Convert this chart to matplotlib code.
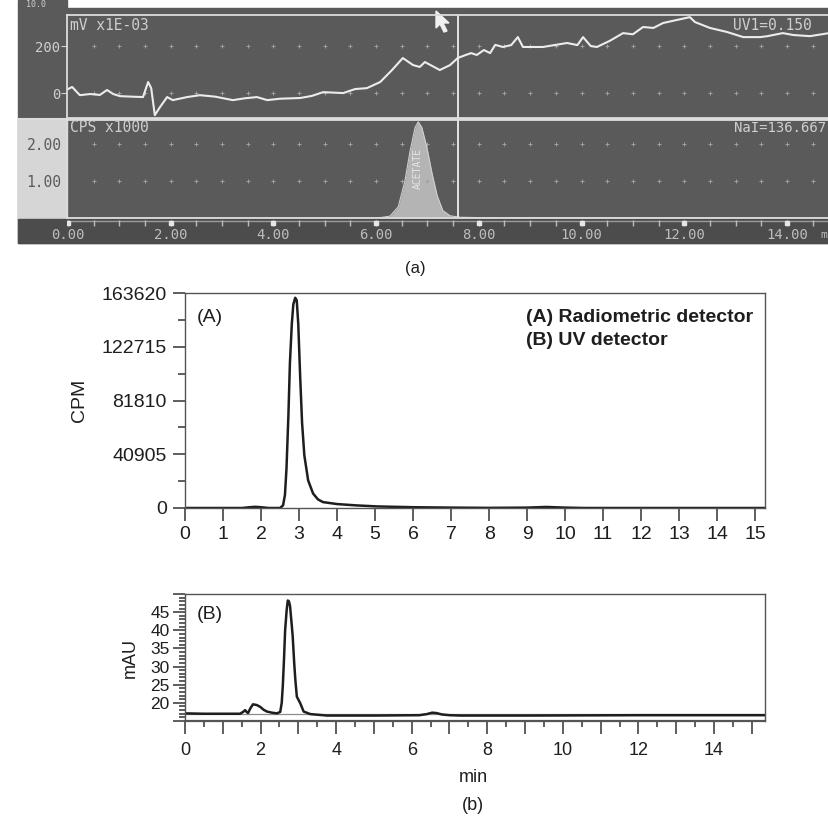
import matplotlib
matplotlib.use("Agg")
import matplotlib.pyplot as plt
from matplotlib.patches import Rectangle, Polygon
from matplotlib.ticker import MultipleLocator, FuncFormatter, FixedLocator

plt.rcParams['font.family'] = ['Liberation Sans', 'DejaVu Sans']

W, H = 829, 817


def px_rect(x0, y0, x1, y1):
    # axes rectangle from pixel box (origin top left)
    return [x0 / W, 1 - y1 / H, (x1 - x0) / W, (y1 - y0) / H]


# ---- panel (a): screen capture of the detector software
uv_t = [0.0, 0.08, 0.23, 0.43, 0.62, 0.76, 0.88, 1.01, 1.21, 1.46, 1.56, 1.62, 1.69,
        1.79, 1.93, 2.04, 2.32, 2.57, 2.86, 3.21, 3.45, 3.68, 3.88, 4.13, 4.52, 4.75,
        4.97, 5.36, 5.59, 5.82, 6.08, 6.31, 6.52, 6.72, 6.85, 6.95, 7.24, 7.44, 7.59,
        7.72, 7.85, 7.96, 8.10, 8.22, 8.32, 8.47, 8.63, 8.76, 8.86, 9.25, 9.72, 9.92,
        10.03, 10.18, 10.30, 10.55, 10.81, 11.00, 11.20, 11.40, 11.59, 11.86, 12.11,
        12.21, 12.50, 12.83, 13.15, 13.48, 13.62, 13.92, 14.12, 14.45, 14.82]
uv_v = [17, 26, -9, -4, -8, 13, -4, -13, -15, -17, 47, 21, -94, -60, -17, -30, -17,
        -9, -15, -30, -22, -17, -30, -24, -21, -12, 4, 0, 17, 21, 47, 98, 149, 119,
        111, 132, 98, 119, 149, 160, 170, 162, 183, 170, 205, 196, 204, 238, 196, 196,
        213, 204, 238, 200, 196, 222, 255, 250, 281, 277, 298, 311, 323, 302, 277,
        260, 238, 238, 242, 255, 247, 242, 255]
cps_t = [0.0, 6.0, 6.13, 6.27, 6.43, 6.56, 6.66, 6.76, 6.82, 6.89, 6.99, 7.09, 7.19,
         7.30, 7.44, 7.63, 8.02, 14.82]
cps_v = [0.0, 0.0, 0.02, 0.05, 0.3, 1.0, 1.8, 2.45, 2.6, 2.45, 1.9, 1.2, 0.6, 0.2,
         0.06, 0.02, 0.01, 0.0]
screen_labels = [0, 2, 4, 6, 8, 10, 12, 14]
screen_minor = [i * 0.5 for i in range(30)]
cursor_t = 7.6

# ---- panel (b): radiometric (A) and UV (B) chromatograms
rad_t = [0.0, 1.5, 1.7, 1.85, 2.0, 2.2, 2.5, 2.58, 2.63, 2.67, 2.72, 2.76, 2.81, 2.85,
         2.9, 2.94, 2.98, 3.03, 3.08, 3.14, 3.24, 3.37, 3.5, 3.63, 4.0, 4.5, 5.05, 6.0,
         7.0, 8.0, 9.0, 9.5, 10.0, 10.5, 15.26]
rad_cpm = [0, 0, 600, 900, 600, 0, 0, 2000, 10000, 30000, 70000, 110000, 140000,
           155000, 160000, 158000, 140000, 100000, 65000, 40000, 21000, 11000, 6500,
           4500, 3000, 2000, 1200, 600, 300, 100, 300, 800, 300, 0, 0]
cpm_ticks = [0, 40905, 81810, 122715, 163620]

uvb_t = [0.0, 0.5, 1.0, 1.46, 1.55, 1.59, 1.64, 1.67, 1.73, 1.8, 1.9, 1.99, 2.08, 2.17,
         2.3, 2.43, 2.52, 2.56, 2.59, 2.62, 2.65, 2.69, 2.72, 2.75, 2.78, 2.82, 2.85,
         2.89, 2.92, 2.96, 3.05, 3.14, 3.32, 3.76, 5.0, 6.2, 6.4, 6.54, 6.65, 6.8, 7.0,
         7.3, 9.0, 12.0, 15.35]
uvb_mau = [17.1, 17.0, 17.0, 17.0, 17.6, 18.0, 17.4, 17.2, 18.5, 19.6, 19.4, 18.9, 18.1,
           17.6, 17.3, 17.1, 17.5, 20.0, 25.0, 32.0, 40.0, 45.5, 48.2, 48.0, 46.7, 42.0,
           38.4, 31.0, 26.4, 21.7, 19.9, 17.6, 16.9, 16.5, 16.5, 16.6, 16.9, 17.3, 17.2,
           16.8, 16.6, 16.5, 16.5, 16.6, 16.6]
uv_baseline = 16.9

SCR_BG = '#5a5a5a'
SCR_LINE = '#dcdcdc'
SCR_TXT = '#cfcfcf'
MONO = 'DejaVu Sans Mono'
INK = '#1e1e1e'

fig = plt.figure(figsize=(W / 100, H / 100), dpi=100)

# screen background
scr = fig.add_axes(px_rect(0, 0, W, 245))
scr.set_xlim(0, W)
scr.set_ylim(245, 0)
scr.axis('off')
scr.add_patch(Rectangle((18, 0), 49, 243, color=SCR_BG))
scr.add_patch(Rectangle((67, 8), W - 67, 235, color=SCR_BG))
scr.add_patch(Rectangle((18, 119), 49, 100, color='#d6d6d6'))
scr.add_patch(Rectangle((18, 219), W - 18, 24, color='#4c4c4c'))
scr.plot([18, W], [119, 119], color=SCR_LINE, lw=1.5)
scr.text(26, 4.5, '10.0', family=MONO, fontsize=6, color=SCR_TXT, va='center')
scr.add_patch(Polygon([(436, 11), (436, 28), (440, 24), (444, 32), (447, 31),
                       (443, 23), (449, 23)], closed=True, color='#f0f0f0'))

xl = (-0.02, 14.82)

# upper trace (UV)
ax_uv = fig.add_axes(px_rect(67, 15, W, 118))
ax_uv.set_facecolor('none')
ax_uv.set_xlim(*xl)
ax_uv.set_ylim(-106, 332)
for lv in (0, 200):
    ax_uv.plot(screen_minor[1:], [lv] * 29, ls='none', marker='+', ms=2.5, mew=0.7,
               color='#a0a0a0')
ax_uv.plot(uv_t, uv_v, color='#ececec', lw=1.5)
ax_uv.axvline(cursor_t, color='#eeeeee', lw=1.3)
for s in ('top', 'left', 'bottom'):
    ax_uv.spines[s].set_color(SCR_LINE)
    ax_uv.spines[s].set_linewidth(1.3)
ax_uv.spines['right'].set_visible(False)
ax_uv.set_xticks([])
ax_uv.set_yticks([0, 200])
ax_uv.set_yticklabels(['0', '200'], family=MONO, fontsize=10)
ax_uv.tick_params(axis='y', colors=SCR_TXT, length=4, pad=1)
ax_uv.text(0.004, 0.9, 'mV x1E-03', transform=ax_uv.transAxes, family=MONO,
           fontsize=10.5, color=SCR_TXT, va='center')
ax_uv.text(0.978, 0.9, 'UV1=0.150', transform=ax_uv.transAxes, family=MONO,
           fontsize=10.5, color=SCR_TXT, va='center', ha='right')

# lower trace (radioactivity)
ax_cps = fig.add_axes(px_rect(67, 120, W, 218))
ax_cps.set_facecolor('none')
ax_cps.set_xlim(*xl)
ax_cps.set_ylim(0, 2.65)
for lv in (1, 2):
    ax_cps.plot(screen_minor[1:], [lv] * 29, ls='none', marker='+', ms=2.5, mew=0.7,
                color='#a0a0a0')
ax_cps.fill_between(cps_t, cps_v, color='#b4b4b4', lw=0)
ax_cps.plot(cps_t, cps_v, color='#d0d0d0', lw=0.8)
ax_cps.axvline(cursor_t, color='#eeeeee', lw=1.3)
ax_cps.text(6.82, 1.35, 'ACETATE', rotation=90, family=MONO, fontsize=7,
            color='#e6e6e6', ha='center', va='center')
for s in ('top', 'left', 'bottom'):
    ax_cps.spines[s].set_color(SCR_LINE)
    ax_cps.spines[s].set_linewidth(1.3)
ax_cps.spines['right'].set_visible(False)
ax_cps.set_xticks([])
ax_cps.set_yticks([1, 2])
ax_cps.set_yticklabels(['1.00', '2.00'], family=MONO, fontsize=10.5)
ax_cps.tick_params(axis='y', colors='#5a5a5a', length=0, pad=4)
ax_cps.text(0.004, 0.92, 'CPS x1000', transform=ax_cps.transAxes, family=MONO,
            fontsize=10.5, color=SCR_TXT, va='center')
ax_cps.text(0.996, 0.92, 'NaI=136.667', transform=ax_cps.transAxes, family=MONO,
            fontsize=10, color=SCR_TXT, va='center', ha='right')

# time strip
ax_time = fig.add_axes(px_rect(67, 219, W, 243))
ax_time.set_xlim(*xl)
ax_time.set_ylim(0, 1)
ax_time.axis('off')
ax_time.axhline(0.9, color='#9a9a9a', lw=1)
ax_time.plot(screen_minor, [0.82] * len(screen_minor), ls='none', marker='|', ms=4,
             color='#bdbdbd')
ax_time.plot(screen_labels, [0.82] * len(screen_labels), ls='none', marker='s',
             ms=3, color='#e6e6e6')
for t in screen_labels:
    ax_time.text(t, 0.32, f'{t:.2f}', family=MONO, fontsize=10, color='#bdbdbd',
                 ha='center', va='center')
ax_time.text(0.997, 0.32, 'm', transform=ax_time.transAxes, family=MONO,
             fontsize=8, color='#bdbdbd', va='center', ha='right')

fig.text(415 / W, 1 - 268 / H, '(a)', fontsize=12, color=INK, ha='center',
         va='center')

# ---- (A) radiometric
ax_a = fig.add_axes(px_rect(185, 293, 765, 508))
ax_a.plot(rad_t, rad_cpm, color=INK, lw=1.8)
ax_a.set_xlim(0, 15.26)
ax_a.set_ylim(0, 163620)
ax_a.set_xticks(range(16))
ax_a.set_yticks(cpm_ticks)
ax_a.yaxis.set_minor_locator(FixedLocator([20452.5, 61357.5, 102262.5, 143167.5]))
ax_a.tick_params(which='major', direction='out', length=9, width=1.1, labelsize=14,
                 colors='#333333', labelcolor=INK, pad=4)
ax_a.tick_params(which='minor', direction='out', length=5, width=1.1, colors='#333333')
for s in ax_a.spines.values():
    s.set_color('#555555')
    s.set_linewidth(1)
ax_a.set_ylabel('CPM', fontsize=14, labelpad=10, color=INK)
ax_a.text(0.02, 0.888, '(A)', transform=ax_a.transAxes, fontsize=14, color=INK,
          va='center')
ax_a.text(0.588, 0.888, '(A) Radiometric detector', transform=ax_a.transAxes,
          fontsize=14, fontweight='bold', color=INK, va='center')
ax_a.text(0.588, 0.777, '(B) UV detector', transform=ax_a.transAxes,
          fontsize=14, fontweight='bold', color=INK, va='center')

# ---- (B) UV
ax_b = fig.add_axes(px_rect(185, 594, 765, 721))
ax_b.axhline(uv_baseline, color='#8c8c8c', lw=0.9)
ax_b.plot(uvb_t, uvb_mau, color=INK, lw=1.8)
ax_b.set_xlim(0, 15.35)
ax_b.set_ylim(15, 50)
ax_b.xaxis.set_major_locator(MultipleLocator(1))
ax_b.xaxis.set_minor_locator(MultipleLocator(0.5))
ax_b.xaxis.set_major_formatter(FuncFormatter(
    lambda v, p: f'{v:.0f}' if round(v) % 2 == 0 else ''))
ax_b.yaxis.set_major_locator(MultipleLocator(5))
ax_b.yaxis.set_minor_locator(MultipleLocator(1))
ax_b.yaxis.set_major_formatter(FuncFormatter(
    lambda v, p: f'{v:.0f}' if 20 <= v <= 45 else ''))
ax_b.tick_params(which='major', direction='out', length=9, width=1.1,
                 colors='#333333', labelcolor=INK, pad=4)
ax_b.tick_params(which='minor', direction='out', length=4.5, width=1.1,
                 colors='#333333')
ax_b.tick_params(axis='x', labelsize=13, pad=6)
ax_b.tick_params(axis='y', labelsize=12.5, pad=2)
for s in ax_b.spines.values():
    s.set_color('#555555')
    s.set_linewidth(1)
ax_b.spines['bottom'].set_linewidth(1.6)
ax_b.set_ylabel('mAU', fontsize=13, labelpad=8, color=INK)
ax_b.text(0.02, 0.835, '(B)', transform=ax_b.transAxes, fontsize=14, color=INK,
          va='center')

fig.text(473 / W, 1 - 778 / H, 'min', fontsize=13, color=INK, ha='center',
         va='center')
fig.text(473 / W, 1 - 805 / H, '(b)', fontsize=13, color=INK, ha='center',
         va='center')

fig.savefig('out.png', dpi=100)
